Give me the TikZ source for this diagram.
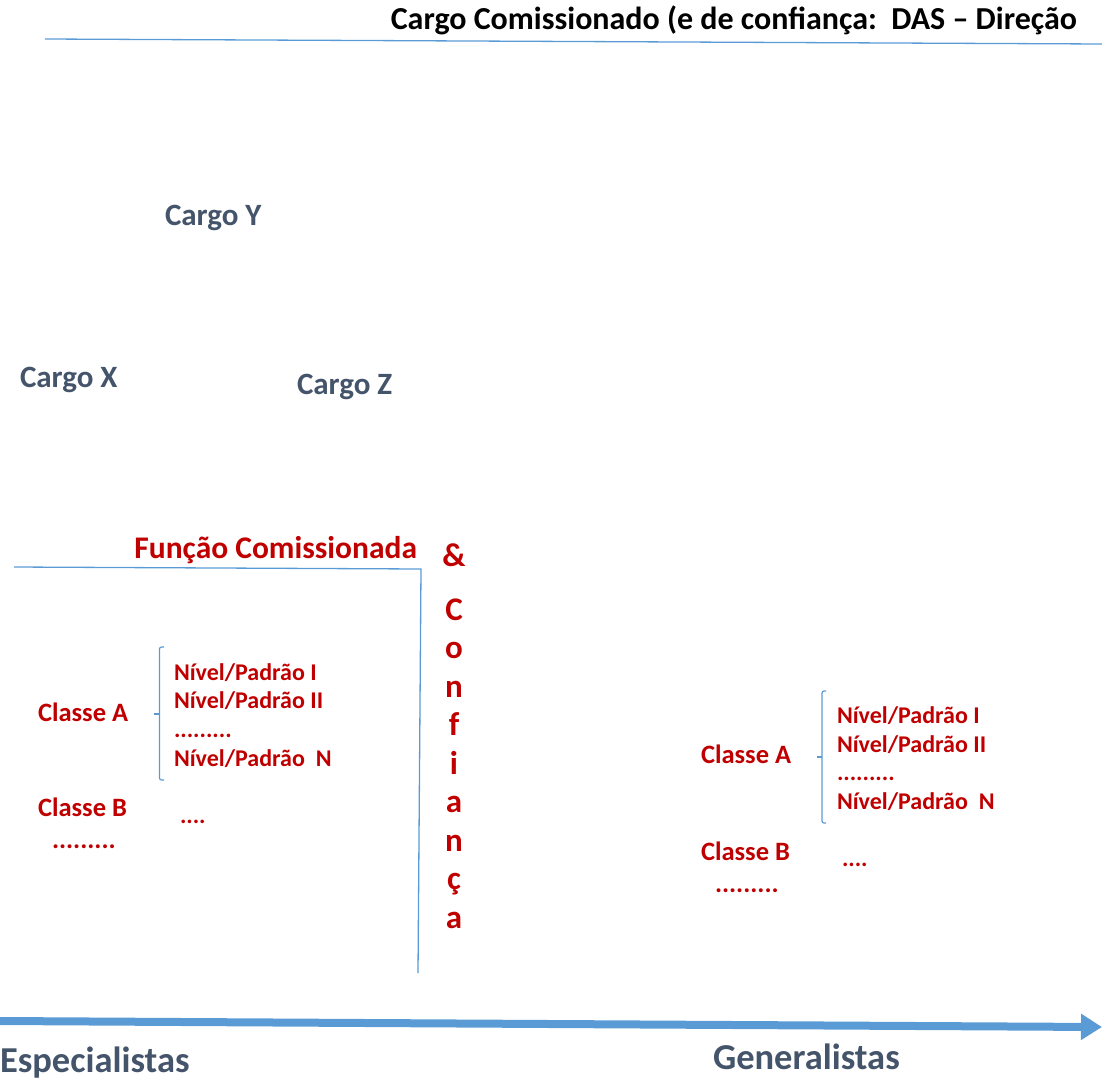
\documentclass[tikz,border=0pt]{standalone}
\usepackage{fontspec}
\setmainfont{Carlito}
\usetikzlibrary{arrows.meta}
\definecolor{darkred}{HTML}{C00000}
\definecolor{slate}{HTML}{44546A}
\definecolor{lineblue}{HTML}{5B9BD5}
\begin{document}
\begin{tikzpicture}[x=1pt,y=-1pt,
  every node/.style={inner sep=0pt, outer sep=0pt},
  titletxt/.style={text=black, font=\fontsize{32}{38}\selectfont\bfseries},
  cargotxt/.style={text=slate, font=\fontsize{31}{37}\selectfont\bfseries},
  axistxt/.style={text=slate, font=\fontsize{36.5}{44}\selectfont\bfseries},
  functxt/.style={text=darkred, font=\fontsize{31.5}{38}\selectfont\bfseries},
  lettertxt/.style={text=darkred, font=\fontsize{33}{38}\selectfont\bfseries},
  classtxt/.style={text=darkred, font=\fontsize{26.5}{32}\selectfont\bfseries},
  niveltxt/.style={text=darkred, font=\fontsize{24}{29}\selectfont\bfseries},
  thinline/.style={draw=lineblue, line width=1.3pt},
  bracketline/.style={draw=lineblue, line width=1.2pt, rounded corners=2pt},
  bigarrow/.style={draw=lineblue, line width=8pt, -{Triangle[length=21pt,width=25pt]}}
]
\useasboundingbox (0,0) rectangle (1102,1081);

% title and top line
\node[titletxt, anchor=base east] (title) at (1077,30) {Cargo Comissionado (e de confiança:\ \ DAS – Direção};
\coordinate (topL) at (45,39);
\coordinate (topR) at (1102,44);
\draw[thinline] (topL) -- (topR);

% cargos
\node[cargotxt, anchor=base west] (cy) at (165,225) {Cargo Y};
\node[cargotxt, anchor=base west] (cx) at (20,387) {Cargo X};
\node[cargotxt, anchor=base west] (cz) at (297,394) {Cargo Z};

% funcao comissionada
\node[functxt, anchor=base east] (func) at (417,558) {Função Comissionada};
\node[lettertxt, anchor=base] (amp) at (454,566) {\&};
\foreach \ch [count=\i] in {C,o,n,f,i,a,n,ç,a}
  \node[lettertxt, anchor=base] (conf\i) at (454,{620+38.5*(\i-1)}) {\ch};
\coordinate (fL) at (14,567);
\coordinate (fC) at (421,569);
\coordinate (fB) at (418,973);
\draw[thinline] (fL) -- (fC) -- (fB);

% left group
\node[classtxt, anchor=base west] (lca) at (38,721) {Classe A};
\node[classtxt, anchor=base west] (lcb) at (38,816) {Classe B};
\node[classtxt, anchor=base west] (ldots) at (52,848) {.........};
\node[niveltxt, anchor=base west] (ln1) at (174,680) {Nível/Padrão I};
\node[niveltxt, anchor=base west] (ln2) at (174,708) {Nível/Padrão II};
\node[niveltxt, anchor=base west] (ln3) at (174,737) {.........};
\node[niveltxt, anchor=base west] (ln4) at (174,766) {Nível/Padrão\ \ N};
\node[niveltxt, anchor=base west] (lbd) at (180,823) {....};
\draw[bracketline] (164,647) -- (159.5,647) -- (159.5,780) -- (164,780);
\draw[bracketline] (154,714) -- (159.5,714);

% right group
\node[classtxt, anchor=base west] (rca) at (701,763) {Classe A};
\node[classtxt, anchor=base west] (rcb) at (701,860) {Classe B};
\node[classtxt, anchor=base west] (rdots) at (715,892) {.........};
\node[niveltxt, anchor=base west] (rn1) at (837,723) {Nível/Padrão I};
\node[niveltxt, anchor=base west] (rn2) at (837,752) {Nível/Padrão II};
\node[niveltxt, anchor=base west] (rn3) at (837,780) {.........};
\node[niveltxt, anchor=base west] (rn4) at (837,809) {Nível/Padrão\ \ N};
\node[niveltxt, anchor=base west] (rbd) at (842,866) {....};
\draw[bracketline] (826,691) -- (822,691) -- (822,823) -- (826,823);
\draw[bracketline] (817,757) -- (822,757);

% axis
\coordinate (axL) at (0,1021);
\coordinate (axR) at (1102,1027);
\draw[bigarrow] (axL) -- (axR);
\node[axistxt, anchor=base west] (esp) at (0,1072) {Especialistas};
\node[axistxt, anchor=base west] (gen) at (713,1069) {Generalistas};
\end{tikzpicture}
\end{document}
